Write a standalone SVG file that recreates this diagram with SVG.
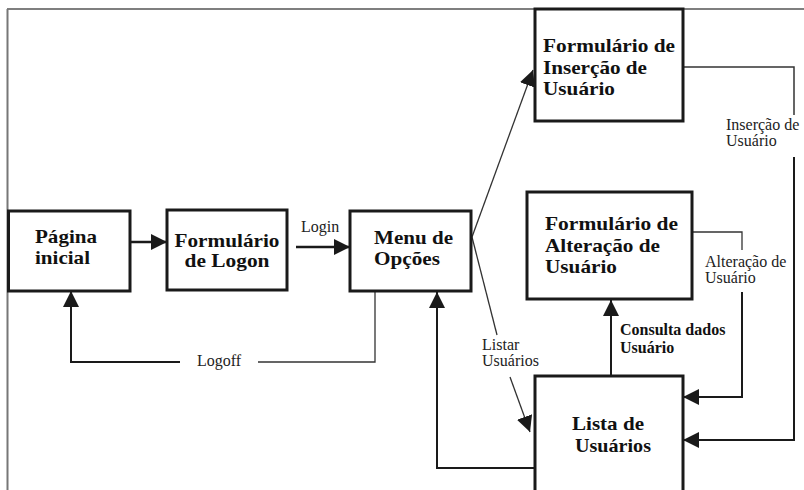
<svg xmlns="http://www.w3.org/2000/svg" width="804" height="490" viewBox="0 0 804 490">
<defs>
<marker id="arr" markerUnits="userSpaceOnUse" markerWidth="17" markerHeight="17" refX="16" refY="8" orient="auto">
<path d="M0,0 L16,8 L0,16 z" fill="#1a1a1a"/>
</marker>
<style>
.box{fill:#fff;stroke:#1a1a1a;stroke-width:3}
.t{font-family:"Liberation Serif","Times New Roman",serif;font-weight:bold;font-size:19px;fill:#111}
.tc{text-anchor:middle}
.lbl{font-family:"Liberation Serif","Times New Roman",serif;font-size:16px;fill:#222}
.lblb{font-family:"Liberation Serif","Times New Roman",serif;font-size:16px;font-weight:bold;fill:#111}
.thick{fill:none;stroke:#1a1a1a;stroke-width:2.5}
.mid{fill:none;stroke:#1a1a1a;stroke-width:2}
.thin{fill:none;stroke:#333;stroke-width:1.3}
.frame{fill:none;stroke:#555;stroke-width:1.5}
</style>
</defs>
<rect width="804" height="490" fill="#fff"/>
<g id="frame">
<line class="frame" x1="7" y1="9" x2="804" y2="9" stroke="#333"/>
<line class="frame" x1="7.5" y1="9" x2="7.5" y2="490" style="stroke:#777;stroke-width:2"/>
</g>
<g id="connectors">
<line class="thick" x1="130" y1="242" x2="167" y2="242" marker-end="url(#arr)"/>
<line class="thick" x1="296" y1="247" x2="350" y2="247" marker-end="url(#arr)"/>
<text class="lbl" x="301" y="232">Login</text>
<polyline class="thin" points="375,291 375,362 258,362"/>
<polyline class="thick" points="180,362 71,362 71,291" style="stroke-width:2" marker-end="url(#arr)"/>
<text class="lbl" x="197" y="366">Logoff</text>
<line class="thin" x1="472" y1="237" x2="533" y2="70" marker-end="url(#arr)"/>
<line class="thin" x1="472" y1="237" x2="497" y2="335"/>
<text class="lbl" x="482" y="350">Listar</text>
<text class="lbl" x="482" y="366">Usuários</text>
<line class="thin" x1="510" y1="377" x2="530" y2="432" marker-end="url(#arr)"/>
<polyline class="thin" points="683,67 794,67 794,115" style="stroke-width:1.5"/>
<text class="lbl" x="726" y="130">Inserção de</text>
<text class="lbl" x="726" y="146">Usuário</text>
<polyline class="mid" points="794,157 794,440 683,440" marker-end="url(#arr)"/>
<polyline class="thin" points="692,232 742,232 742,250"/>
<text class="lbl" x="705" y="267">Alteração de</text>
<text class="lbl" x="705" y="283">Usuário</text>
<polyline class="mid" points="742,292 742,397 683,397" marker-end="url(#arr)"/>
<line class="mid" x1="611" y1="376" x2="611" y2="300" marker-end="url(#arr)"/>
<text class="lblb" x="620" y="335">Consulta dados</text>
<text class="lblb" x="620" y="353">Usuário</text>
<polyline class="mid" points="535,468 437,468 437,292" marker-end="url(#arr)"/>
</g>
<g id="pagina-inicial">
<rect class="box" x="8.5" y="211" width="121.5" height="80"/>
<text class="t" x="35" y="243" textLength="62" lengthAdjust="spacingAndGlyphs">Página</text>
<text class="t" x="35" y="264" textLength="55" lengthAdjust="spacingAndGlyphs">inicial</text>
</g>
<g id="formulario-logon">
<rect class="box" x="167" y="210" width="120" height="80"/>
<text class="t tc" x="227" y="247" textLength="105" lengthAdjust="spacingAndGlyphs">Formulário</text>
<text class="t tc" x="227" y="267" textLength="85" lengthAdjust="spacingAndGlyphs">de Logon</text>
</g>
<g id="menu-opcoes">
<rect class="box" x="350" y="211" width="121" height="80"/>
<text class="t" x="374" y="244" textLength="79" lengthAdjust="spacingAndGlyphs">Menu de</text>
<text class="t" x="374" y="265" textLength="66" lengthAdjust="spacingAndGlyphs">Opções</text>
</g>
<g id="form-insercao">
<rect class="box" x="535" y="9" width="148" height="112"/>
<text class="t" x="543" y="52" textLength="132" lengthAdjust="spacingAndGlyphs">Formulário de</text>
<text class="t" x="543" y="74" textLength="104" lengthAdjust="spacingAndGlyphs">Inserção de</text>
<text class="t" x="543" y="95" textLength="72" lengthAdjust="spacingAndGlyphs">Usuário</text>
</g>
<g id="form-alteracao">
<rect class="box" x="527" y="192" width="165" height="107"/>
<text class="t" x="545" y="230" textLength="133" lengthAdjust="spacingAndGlyphs">Formulário de</text>
<text class="t" x="545" y="252" textLength="115" lengthAdjust="spacingAndGlyphs">Alteração de</text>
<text class="t" x="545" y="273" textLength="72" lengthAdjust="spacingAndGlyphs">Usuário</text>
</g>
<g id="lista-usuarios">
<rect class="box" x="535" y="376" width="148" height="130"/>
<text class="t tc" x="608" y="430" textLength="72" lengthAdjust="spacingAndGlyphs">Lista de</text>
<text class="t tc" x="613" y="452" textLength="76" lengthAdjust="spacingAndGlyphs">Usuários</text>
</g>
</svg>
